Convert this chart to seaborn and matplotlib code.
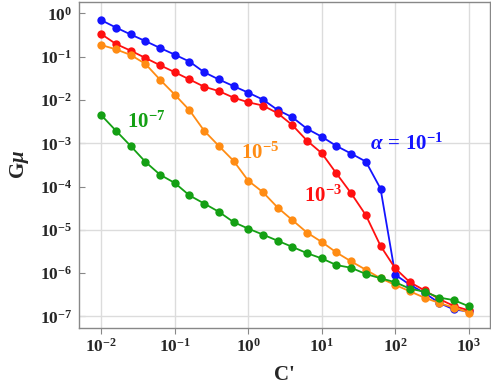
import numpy as np
import pandas as pd
import matplotlib
matplotlib.use("Agg")
import matplotlib.pyplot as plt
import seaborn as sns
from matplotlib.ticker import FixedLocator, FuncFormatter, NullLocator

# ---- data ----
c_prime = [0.01, 0.01585, 0.02512, 0.03981, 0.06310,
           0.1, 0.1585, 0.2512, 0.3981, 0.6310,
           1.0, 1.585, 2.512, 3.981, 6.310,
           10.0, 15.85, 25.12, 39.81, 63.10,
           100.0, 158.5, 251.2, 398.1, 631.0, 1000.0]

# log10(G mu) per series
log_gmu_a1 = [-0.156, -0.326, -0.486, -0.638, -0.798, -0.952, -1.112, -1.358, -1.525, -1.679,
              -1.830, -1.991, -2.230, -2.399, -2.665, -2.848, -3.062, -3.238, -3.422, -4.048,
              -6.037, -6.270, -6.460, -6.690, -6.840, -6.886]
log_gmu_a3 = [-0.477, -0.706, -0.860, -1.028, -1.197, -1.358, -1.525, -1.693, -1.794, -1.945,
              -2.053, -2.128, -2.305, -2.580, -2.940, -3.229, -3.697, -4.155, -4.660, -5.370,
              -5.890, -6.210, -6.400, -6.600, -6.760, -6.860]
log_gmu_a5 = [-0.729, -0.830, -0.959, -1.165, -1.532, -1.876, -2.236, -2.711, -3.062, -3.406,
              -3.865, -4.130, -4.485, -4.775, -5.064, -5.280, -5.523, -5.729, -5.922, -6.119,
              -6.273, -6.420, -6.570, -6.690, -6.800, -6.910]
log_gmu_a7 = [-2.351, -2.711, -3.062, -3.429, -3.727, -3.917, -4.205, -4.392, -4.583, -4.821,
              -4.972, -5.110, -5.252, -5.394, -5.539, -5.660, -5.814, -5.876, -6.020, -6.119,
              -6.210, -6.360, -6.430, -6.565, -6.625, -6.765]

series_names = ["a1", "a3", "a5", "a7"]
series_logs = [log_gmu_a1, log_gmu_a3, log_gmu_a5, log_gmu_a7]
series_colors = ["#1414ff", "#ff1010", "#ff8c14", "#14a014"]
series_labels = [r"$\alpha\,=\,\mathbf{10^{-1}}$", r"$\mathbf{10^{-3}}$",
                 r"$\mathbf{10^{-5}}$", r"$\mathbf{10^{-7}}$"]
label_pos = [(145, 9.3e-4), (10.5, 6.0e-5), (1.45, 6.0e-4), (0.041, 3.1e-3)]

x_tick_exp = [-2, -1, 0, 1, 2, 3]
y_tick_exp = [0, -1, -2, -3, -4, -5, -6, -7]
y_grid_exp = [-3, -5, -7]

frames = []
for name, logs in zip(series_names, series_logs):
    frames.append(pd.DataFrame({"C": c_prime, "Gmu": 10.0 ** np.array(logs), "series": name}))
df = pd.concat(frames, ignore_index=True)

# ---- style ----
sns.set_theme(style="white")
plt.rcParams["font.family"] = ["Liberation Serif", "DejaVu Serif"]
plt.rcParams["font.weight"] = "bold"
plt.rcParams["mathtext.fontset"] = "custom"
plt.rcParams["mathtext.rm"] = "Liberation Serif:bold"
plt.rcParams["mathtext.bf"] = "Liberation Serif:bold"
plt.rcParams["mathtext.it"] = "Liberation Serif:italic:bold"
plt.rcParams["axes.grid"] = False

fig = plt.figure(figsize=(4.91, 3.89), dpi=100)
ax = fig.add_axes([0.161, 0.157, 0.837, 0.839])

sns.lineplot(data=df, x="C", y="Gmu", hue="series", hue_order=series_names,
             palette=dict(zip(series_names, series_colors)), marker="o",
             markersize=6, markeredgewidth=0, linewidth=1.3, legend=False,
             ax=ax, zorder=3)

ax.set_xscale("log")
ax.set_yscale("log")
ax.set_xlim(10 ** -2.303, 10 ** 3.29)
ax.set_ylim(10 ** -7.266, 10 ** 0.275)

ax.xaxis.set_major_locator(FixedLocator([10.0 ** e for e in x_tick_exp]))
ax.yaxis.set_major_locator(FixedLocator([10.0 ** e for e in y_tick_exp]))
ax.xaxis.set_minor_locator(NullLocator())
ax.yaxis.set_minor_locator(NullLocator())
fmt = FuncFormatter(lambda v, p: r"$\mathbf{10^{%d}}$" % int(round(np.log10(v))))
ax.xaxis.set_major_formatter(fmt)
ax.yaxis.set_major_formatter(fmt)
ax.tick_params(axis="x", direction="out", length=4, width=0.8, color="#888888",
               labelsize=12.5, pad=3, bottom=True)
ax.tick_params(axis="y", direction="in", length=4, width=0.8, color="#888888",
               labelsize=12.5, pad=5, left=True)

# grid lines drawn explicitly: verticals at every decade, horizontals at 1e-3, 1e-5, 1e-7
for e in x_tick_exp:
    ax.axvline(10.0 ** e, color="#dcdcdc", linewidth=1.0, zorder=1)
for e in y_grid_exp:
    ax.axhline(10.0 ** e, color="#dcdcdc", linewidth=1.0, zorder=1)

for sp in ax.spines.values():
    sp.set_color("#888888")
    sp.set_linewidth(1.0)

for lab, pos, col in zip(series_labels, label_pos, series_colors):
    ax.text(pos[0], pos[1], lab, color=col, fontsize=15, ha="center", va="center",
            fontweight="bold")

ax.set_xlabel("C'", fontsize=15, fontweight="bold", labelpad=7)
ax.set_ylabel(r"$\mathrm{G}\mu$", fontsize=15, labelpad=6)

ax.grid(False)
for t in ax.yaxis.get_major_ticks() + ax.xaxis.get_major_ticks():
    t.gridline.set_visible(False)

fig.savefig("out.png", dpi=100)
